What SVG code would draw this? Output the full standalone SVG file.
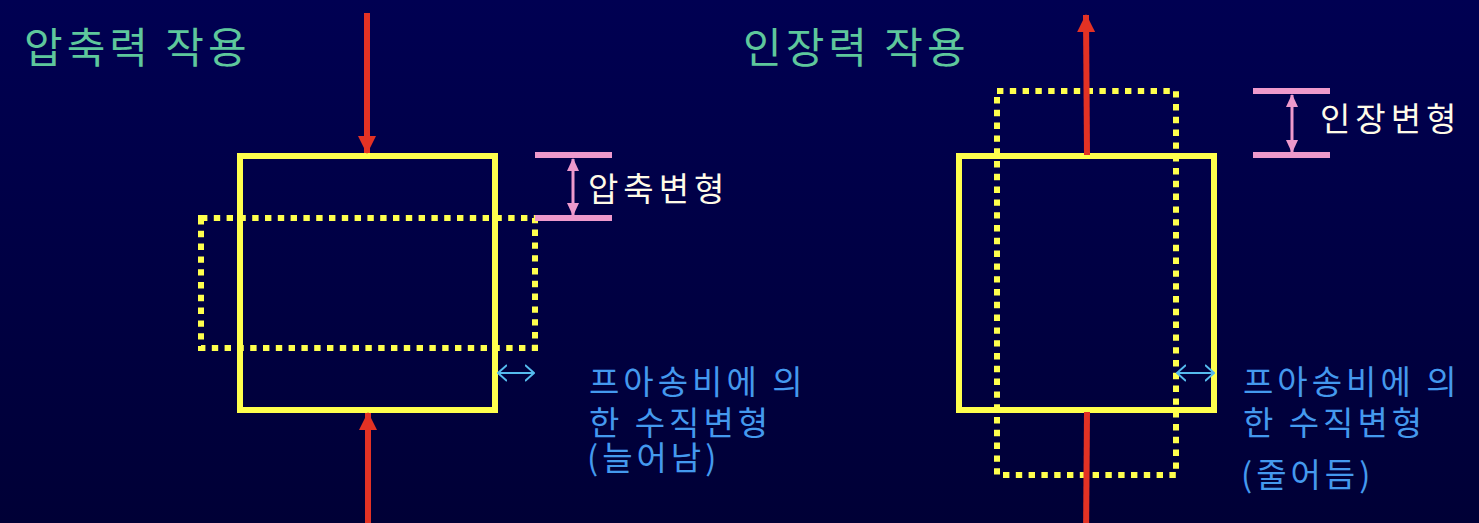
<svg xmlns="http://www.w3.org/2000/svg" width="1479" height="523" viewBox="0 0 1479 523">
<defs>
<linearGradient id="bg" x1="0" y1="0" x2="0" y2="1">
<stop offset="0" stop-color="#000052"/>
<stop offset="1" stop-color="#000036"/>
</linearGradient>
<marker id="redHead" viewBox="0 0 18 18" markerWidth="18" markerHeight="18" refX="17" refY="9" orient="auto" markerUnits="userSpaceOnUse">
<path d="M0,0 L18,9 L0,18 Z" fill="#e33224"/>
</marker>
<marker id="pinkHead" viewBox="0 0 13 12" markerWidth="13" markerHeight="12" refX="12" refY="6" orient="auto-start-reverse" markerUnits="userSpaceOnUse">
<path d="M0,0 L13,6 L0,12 Z" fill="#ee99cc"/>
</marker>
<marker id="cyanHead" viewBox="0 0 10 18" markerWidth="10" markerHeight="18" refX="9" refY="9" orient="auto-start-reverse" markerUnits="userSpaceOnUse">
<path d="M0,1 L9,9 L0,17" fill="none" stroke="#55bbee" stroke-width="2"/>
</marker>
</defs>
<style>
.title{font-family:"Noto Sans CJK KR","Noto Sans",sans-serif;font-size:42px;letter-spacing:4px;fill:#5ec79c}
.white{font-family:"Noto Sans CJK KR","Noto Sans",sans-serif;font-size:33px;letter-spacing:5px;fill:#fffbe8}
.blue{font-family:"Noto Sans CJK KR","Noto Sans",sans-serif;font-size:33px;letter-spacing:4px;fill:#4499ee}
.solid{fill:none;stroke:#ffff4d;stroke-width:6}
.dotted{fill:none;stroke:#ffff4d;stroke-width:6;stroke-dasharray:6.4 6.4}
.force{stroke:#e33224;stroke-width:6;fill:none;marker-end:url(#redHead)}
.tick{stroke:#ee99cc;stroke-width:6}
.dim{stroke:#ee99cc;stroke-width:3;marker-start:url(#pinkHead);marker-end:url(#pinkHead)}
.poisson{stroke:#55bbee;stroke-width:2;marker-start:url(#cyanHead);marker-end:url(#cyanHead)}
</style>
<rect x="0" y="0" width="1479" height="523" fill="url(#bg)"/>

<g id="compression">
<text class="title" x="24" y="63">압축력 작용</text>
<g id="comp-solid"><rect class="solid" x="240" y="156" width="255" height="254"/></g>
<g id="comp-dotted"><rect class="dotted" x="201" y="218" width="334" height="130"/></g>
<g id="comp-dim">
<line class="tick" x1="535" y1="155" x2="612" y2="155"/>
<line class="tick" x1="535" y1="218" x2="612" y2="218"/>
<text class="white" x="588" y="201">압축변형</text>
</g>
<g id="comp-poisson-label">
<text class="blue" x="589" y="394">프아송비에 의</text>
<text class="blue" x="589" y="435">한 수직변형</text>
<text class="blue" x="587" y="470">(늘어남)</text>
</g>
</g>

<g id="tension">
<text class="title" x="743" y="63">인장력 작용</text>
<g id="ten-solid"><rect class="solid" x="959" y="156" width="255" height="254"/></g>
<g id="ten-dotted"><rect class="dotted" x="997" y="91" width="179" height="384"/></g>
<g id="ten-dim">
<line class="tick" x1="1253" y1="91" x2="1330" y2="91"/>
<line class="tick" x1="1253" y1="155" x2="1330" y2="155"/>
<text class="white" x="1320" y="131">인장변형</text>
</g>
<g id="ten-poisson-label">
<text class="blue" x="1243" y="394">프아송비에 의</text>
<text class="blue" x="1243" y="435">한 수직변형</text>
<text class="blue" x="1241" y="487">(줄어듬)</text>
</g>
</g>

<g id="connectors">
<line class="force" x1="367" y1="13" x2="367" y2="153"/>
<line class="force" x1="368" y1="523" x2="368" y2="413"/>
<line class="force" x1="1087" y1="155" x2="1086" y2="15"/>
<line class="force" x1="1087" y1="412" x2="1086" y2="540"/>
<line class="dim" x1="573" y1="159" x2="573" y2="215"/>
<line class="dim" x1="1292" y1="95" x2="1292" y2="152"/>
<line class="poisson" x1="498" y1="373" x2="534" y2="373"/>
<line class="poisson" x1="1177" y1="373" x2="1214" y2="373"/>
</g>
</svg>
